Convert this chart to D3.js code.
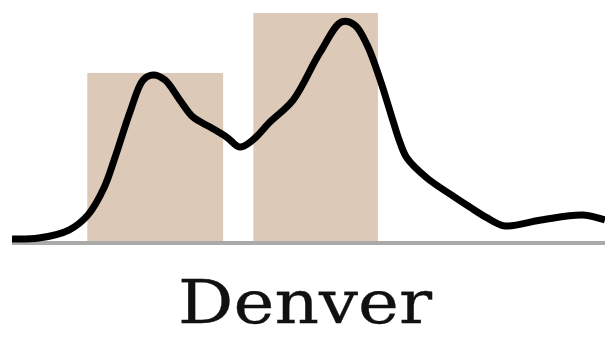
<!DOCTYPE html>
<html>
<head>
<meta charset="utf-8">
<script src="https://cdn.jsdelivr.net/npm/d3@7"></script>
<style>
  body { margin: 0; background: #fff; }
  svg { display: block; }
</style>
</head>
<body>
<svg width="605" height="348"></svg>
<script>
// **** data ****
var cityName = 'Denver';

// bars: start / end on the x axis, height
var barStarts = [12.7, 40.7];
var barEnds   = [35.6, 61.7];
var barValues = [73.7, 100];

// density line
var lineX = [0, 4.5, 9.6, 12.8, 15.5, 17.5, 19.9, 22.1, 23.8, 25.8, 28.3, 30.5, 33.4,
             36.2, 38.4, 40.6, 43.5, 47.4, 51.9, 55.6, 57.8, 59.9, 62.1, 64.2, 65.4,
             66.6, 70.0, 74.4, 77.2, 79.9, 83.1, 89.2, 96.3, 100];
var lineY = [0.9, 1.3, 4.8, 11.4, 23.2, 37.7, 56.6, 70.6, 72.8, 70.6, 61.8, 54.4, 50.0,
             45.6, 41.2, 44.3, 52.2, 61.8, 82.5, 96.1, 94.7, 85.9, 70.6, 53.1, 43.4,
             36.4, 27.6, 19.7, 14.9, 10.5, 6.6, 9.2, 11.4, 9.2];

// **** scales ****
var xScale = d3.scaleLinear().domain([0, 100]).range([12, 605]);
var yScale = d3.scaleLinear().domain([0, 100]).range([241, 13]);

var svg = d3.select('svg');

// bars
svg.selectAll('rect.bar')
    .data(barValues)
    .enter().append('rect')
    .attr('class', 'bar')
    .attr('x', function(d, i) { return xScale(barStarts[i]); })
    .attr('width', function(d, i) { return xScale(barEnds[i]) - xScale(barStarts[i]); })
    .attr('y', function(d) { return yScale(d); })
    .attr('height', function(d) { return yScale(0) - yScale(d); })
    .style('fill', '#ddc9b8');

// baseline
svg.append('line')
    .attr('x1', xScale(0)).attr('x2', xScale(100))
    .attr('y1', yScale(0) + 2).attr('y2', yScale(0) + 2)
    .style('stroke', '#aaaaaa')
    .style('stroke-width', 4);

// density curve
var points = lineX.map(function(x, i) { return [x, lineY[i]]; });
var line = d3.line()
    .x(function(d) { return xScale(d[0]); })
    .y(function(d) { return yScale(d[1]); })
    .curve(d3.curveCatmullRom.alpha(0.5));

svg.append('path')
    .attr('d', line(points))
    .style('fill', 'none')
    .style('stroke', '#000')
    .style('stroke-width', 7)
    .style('stroke-linejoin', 'round');

// label
svg.append('text')
    .text(cityName)
    .attr('x', 305)
    .attr('y', 323)
    .attr('text-anchor', 'middle')
    .attr('textLength', 254)
    .attr('lengthAdjust', 'spacingAndGlyphs')
    .style('font-family', 'DejaVu Serif')
    .style('font-size', '59px')
    .style('fill', '#111')
    .style('stroke', '#111')
    .style('stroke-width', 0.3);
</script>
</body>
</html>
